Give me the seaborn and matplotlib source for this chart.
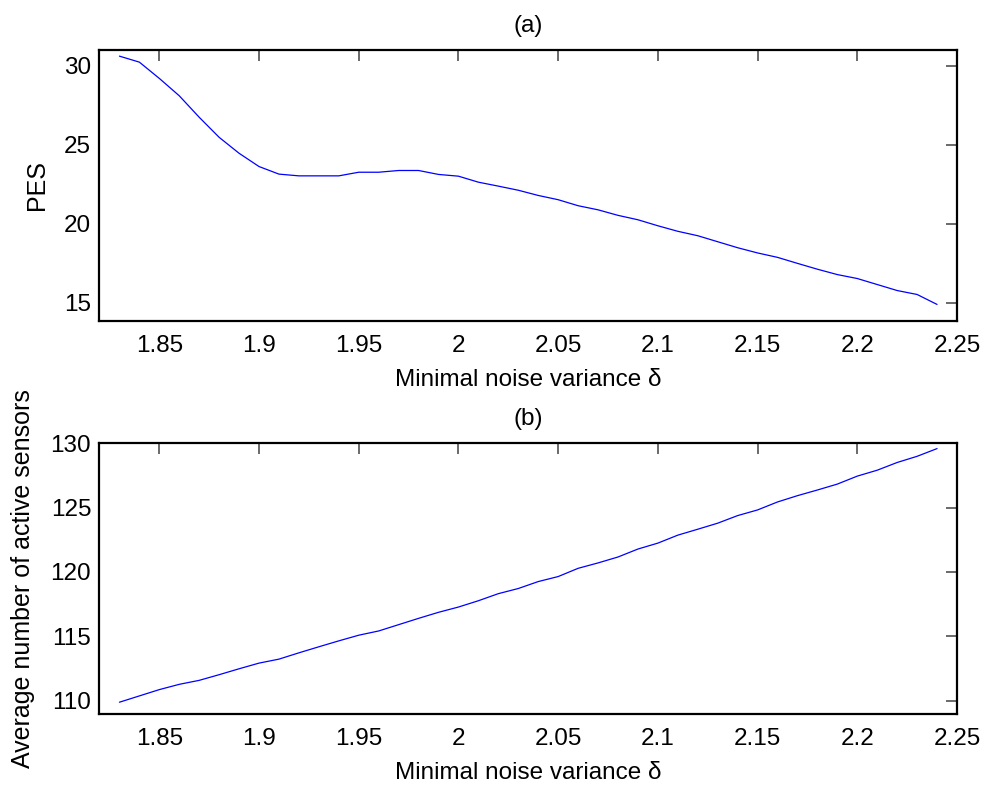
import numpy as np
import pandas as pd
import matplotlib
matplotlib.use("Agg")
import matplotlib.pyplot as plt
import seaborn as sns

# Minimal noise variance delta, 1.83 ... 2.24 in steps of 0.01
delta = [1.83, 1.84, 1.85, 1.86, 1.87, 1.88, 1.89, 1.90, 1.91, 1.92,
         1.93, 1.94, 1.95, 1.96, 1.97, 1.98, 1.99, 2.00, 2.01, 2.02,
         2.03, 2.04, 2.05, 2.06, 2.07, 2.08, 2.09, 2.10, 2.11, 2.12,
         2.13, 2.14, 2.15, 2.16, 2.17, 2.18, 2.19, 2.20, 2.21, 2.22,
         2.23, 2.24]

# (a) PES
pes = [30.61, 30.23, 29.20, 28.10, 26.74, 25.47, 24.46, 23.62, 23.14, 23.03,
       23.03, 23.03, 23.26, 23.26, 23.37, 23.37, 23.12, 23.01, 22.63, 22.38,
       22.12, 21.79, 21.52, 21.14, 20.88, 20.53, 20.25, 19.87, 19.52, 19.24,
       18.86, 18.48, 18.15, 17.87, 17.49, 17.12, 16.78, 16.53, 16.15, 15.77,
       15.52, 14.89]

# (b) average number of active sensors
active = [109.87, 110.36, 110.85, 111.26, 111.57, 112.01, 112.47, 112.91, 113.22, 113.71,
          114.18, 114.64, 115.08, 115.41, 115.90, 116.39, 116.86, 117.27, 117.76, 118.31,
          118.71, 119.25, 119.64, 120.28, 120.70, 121.16, 121.78, 122.24, 122.86, 123.32,
          123.79, 124.38, 124.82, 125.44, 125.93, 126.37, 126.83, 127.45, 127.91, 128.51,
          128.99, 129.59]

x_ticks = [1.85, 1.9, 1.95, 2.0, 2.05, 2.1, 2.15, 2.2, 2.25]
x_ticklabels = ["1.85", "1.9", "1.95", "2", "2.05", "2.1", "2.15", "2.2", "2.25"]
pes_ticks = [15, 20, 25, 30]
active_ticks = [110, 115, 120, 125, 130]

sns.set_style("white")
plt.rcParams["font.family"] = ["Liberation Sans", "DejaVu Sans"]
plt.rcParams["font.size"] = 17.5
plt.rcParams["text.color"] = "#000000"
plt.rcParams["axes.labelcolor"] = "#000000"

df = pd.DataFrame({"delta": delta, "pes": pes, "active": active})

fig = plt.figure(figsize=(9.87, 7.87), dpi=100)
ax_a = fig.add_axes([0.1008, 0.5921, 0.8688, 0.3444])
ax_b = fig.add_axes([0.1008, 0.0927, 0.8688, 0.3440])

sns.lineplot(data=df, x="delta", y="pes", ax=ax_a, color="#0000ff", linewidth=0.9)
sns.lineplot(data=df, x="delta", y="active", ax=ax_b, color="#0000ff", linewidth=0.9)

panels = [
    (ax_a, "(a)", "PES", pes_ticks, (13.84, 31.0)),
    (ax_b, "(b)", "Average number of active sensors", active_ticks, (108.95, 130.0)),
]
for ax, title, ylabel, yt, ylim in panels:
    ax.set_xlim(1.82, 2.25)
    ax.set_ylim(*ylim)
    ax.set_xticks(x_ticks)
    ax.set_xticklabels(x_ticklabels)
    ax.set_yticks(yt)
    ax.set_yticklabels([str(v) for v in yt])
    ax.tick_params(direction="in", length=8, width=1.2, color="#505050",
                   top=True, right=True, labelsize=17.5, labelcolor="#000000")
    ax.tick_params(axis="x", pad=10)
    ax.tick_params(axis="y", pad=6)
    for s in ax.spines.values():
        s.set_visible(True)
        s.set_linewidth(1.6)
        s.set_color("#000000")
    ax.set_title(title, fontsize=17.5, pad=13)
    ax.set_xlabel("Minimal noise variance δ", fontsize=17.5, labelpad=9)
    ax.set_ylabel(ylabel, fontsize=18, labelpad=11)

fig.savefig("out.png", dpi=100)
